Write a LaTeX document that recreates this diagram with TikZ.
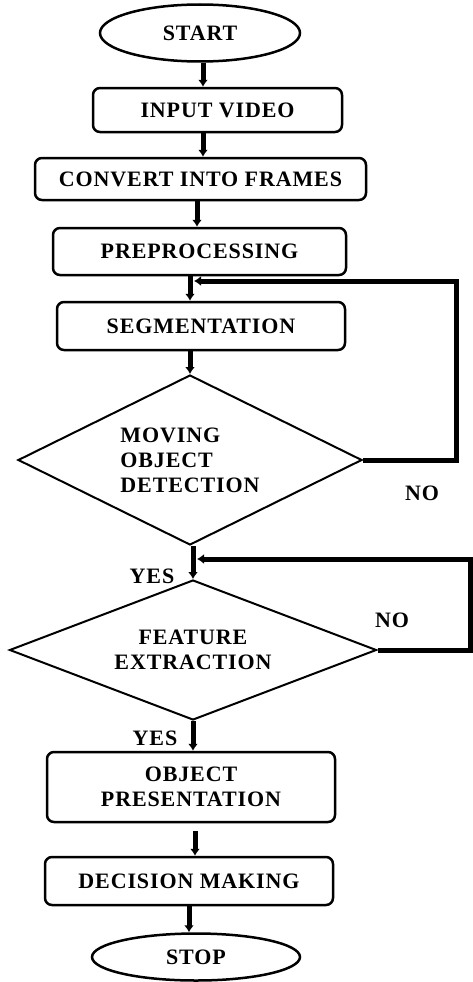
\documentclass[tikz,border=0pt]{standalone}
\usepackage{fontspec}
\setmainfont[LetterSpace=4]{Liberation Serif}
\usetikzlibrary{shapes.geometric,arrows.meta}
\begin{document}
\begin{tikzpicture}[x=1pt,y=-1pt,>={Latex[length=7pt,width=10pt]},
	font=\fontsize{22}{25}\selectfont\bfseries,
	term/.style={draw,ellipse,line width=2.5pt,inner sep=0pt},
	proc/.style={draw,rounded corners=7pt,line width=2.5pt,inner sep=0pt,align=center},
	cond/.style={draw,diamond,line width=2pt,inner sep=0pt,aspect=2.2},
	flow/.style={->,line width=5pt},
	back/.style={->,line width=5pt}]
\useasboundingbox (0,0) rectangle (473,982);

\node[term,minimum width=200pt,minimum height=57pt] (start) at (200,33) {START};
\node[proc,minimum width=249pt,minimum height=44pt] (input) at (217.5,110) {INPUT VIDEO};
\node[proc,minimum width=331pt,minimum height=42pt] (convert) at (200.5,179) {CONVERT INTO FRAMES};
\node[proc,minimum width=293pt,minimum height=47pt] (preproc) at (199.5,251.5) {PREPROCESSING};
\node[proc,minimum width=288pt,minimum height=48pt] (segm) at (201,326) {SEGMENTATION};
\node[cond,minimum width=344pt,minimum height=170pt,align=left] (moving) at (190,460)
	{MOVING\\OBJECT\\DETECTION};
\node[cond,minimum width=367pt,minimum height=140pt,align=center] (feature) at (193,650)
	{FEATURE\\EXTRACTION};
\node[proc,minimum width=288pt,minimum height=70pt] (present) at (191,787) {OBJECT\\PRESENTATION};
\node[proc,minimum width=288pt,minimum height=48pt] (decide) at (189,881) {DECISION MAKING};
\node[term,minimum width=208pt,minimum height=47pt] (stop) at (196,957) {STOP};

\node (no1) at (422,493) {NO};
\node (yes1) at (152,576) {YES};
\node (no2) at (392,620) {NO};
\node (yes2) at (155,738) {YES};

\coordinate (j1) at (194,281);
\coordinate (j2) at (197,559);

\draw[flow] ([xshift=3pt]start.south) -- ([xshift=-14.5pt]input.north);
\draw[flow] ([xshift=-14.5pt]input.south) -- ([xshift=2.5pt]convert.north);
\draw[flow] ([xshift=-3.5pt]convert.south) -- ([xshift=-2.5pt]preproc.north);
\draw[flow] ([xshift=-9.5pt]preproc.south) -- ([xshift=-11pt]segm.north);
\draw[flow] (segm.south -| moving.north) -- (moving.north);
\draw[flow] (moving.south -| feature.north) -- (feature.north);
\draw[flow] (feature.south) -- (feature.south |- present.north);
\draw[flow] ([xshift=4pt,yshift=-8pt]present.south) -- ([xshift=6pt]decide.north);
\draw[flow] (decide.south) -- (decide.south |- stop.north);

\draw[back] (moving.east) -- ++(93,0) |- (j1);
\draw[back] (feature.east) -- ++(93,0) |- (j2);

\end{tikzpicture}
\end{document}
